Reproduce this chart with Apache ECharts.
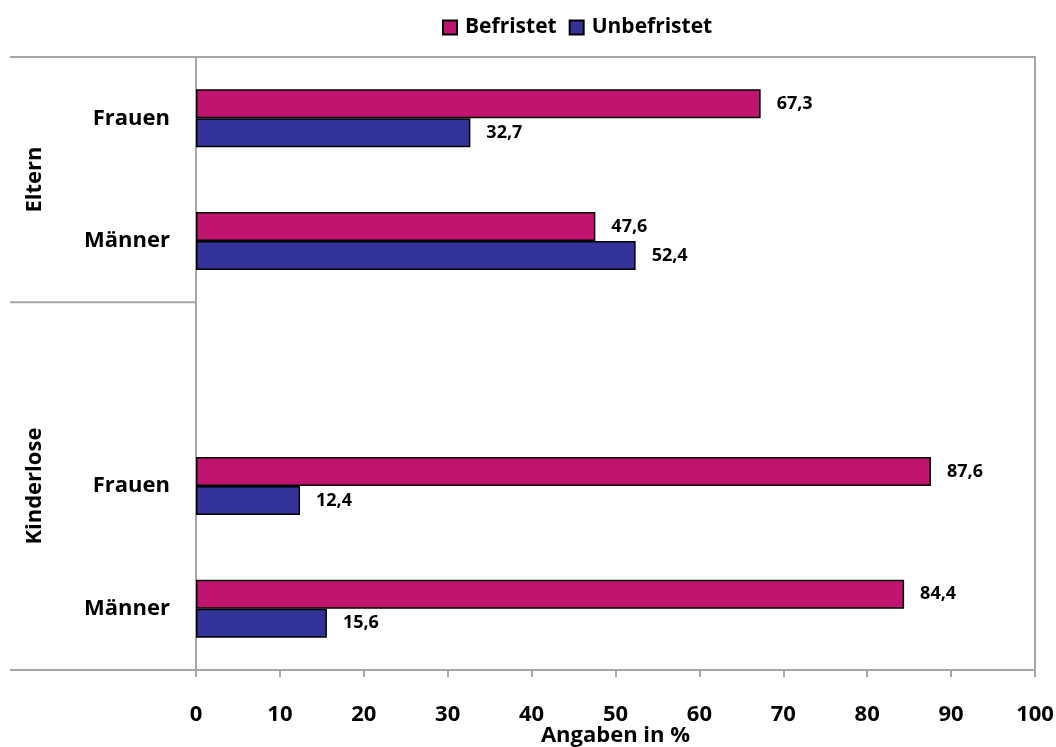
<!DOCTYPE html>
<html>
<head>
<meta charset="utf-8">
<script src="https://cdn.jsdelivr.net/npm/echarts@6/dist/echarts.min.js"></script>
<style>
html,body{margin:0;padding:0;background:#fff;}
#chart{width:1056px;height:747px;}
</style>
</head>
<body>
<div id="chart"></div>
<script>
// ---- data ----
const categories = ['Frauen', 'Männer', '', 'Frauen', 'Männer'];
const groupNames = ['Eltern', 'Kinderlose'];
const groupSizes = [2, 3];
const befristet = [67.3, 47.6, null, 87.6, 84.4];
const unbefristet = [32.7, 52.4, null, 12.4, 15.6];
const seriesNames = ['Befristet', 'Unbefristet'];
const xMin = 0, xMax = 100, xStep = 10;
const xAxisName = 'Angaben in %';

const FONT = '"Open Sans", "Noto Sans", sans-serif';
const GRAY = '#a6a6a6';

const chart = echarts.init(document.getElementById('chart'));

const labelOpt = {
  show: true,
  position: 'right',
  distance: 16,
  color: '#000',
  fontFamily: FONT,
  fontWeight: 'bold',
  fontSize: 18,
  formatter: p => p.value == null ? '' : String(p.value.toFixed(1)).replace('.', ',')
};

const option = {
  animation: false,
  backgroundColor: '#fff',
  legend: {
    top: 12,
    left: 437,
    itemWidth: 14,
    itemHeight: 14,
    itemGap: 12,
    icon: 'rect',
    textStyle: {fontFamily: FONT, fontWeight: 'bold', fontSize: 21, color: '#000', padding: [0, 0, 0, 3]},
    data: seriesNames
  },
  grid: {
    left: 196, right: 21, top: 57, bottom: 77,
    outerBoundsMode: 'none',
    containLabel: false,
    show: true, borderColor: GRAY, borderWidth: 2, backgroundColor: '#fff'
  },
  xAxis: {
    type: 'value',
    min: xMin, max: xMax, interval: xStep,
    name: xAxisName,
    nameLocation: 'middle',
    nameGap: 55,
    nameMoveOverlap: false,
    nameTextStyle: {fontFamily: FONT, fontWeight: 'bold', fontSize: 22, color: '#000'},
    splitLine: {show: false},
    axisLine: {show: true, lineStyle: {color: GRAY, width: 2}},
    axisTick: {show: true, length: 7, lineStyle: {color: GRAY, width: 2}},
    axisLabel: {margin: 34, fontFamily: FONT, fontWeight: 'bold', fontSize: 22, color: '#000'}
  },
  yAxis: {
    type: 'category',
    inverse: true,
    data: categories,
    axisLine: {show: true, lineStyle: {color: GRAY, width: 2}},
    axisTick: {show: false},
    splitLine: {show: false},
    axisLabel: {margin: 26, fontFamily: FONT, fontWeight: 'bold', fontSize: 22, color: '#000'}
  },
  series: [
    {
      name: seriesNames[0], type: 'bar', data: befristet,
      barWidth: 29, barGap: '0%',
      itemStyle: {color: '#C0156F', borderColor: '#000', borderWidth: 1.5},
      label: labelOpt
    },
    {
      name: seriesNames[1], type: 'bar', data: unbefristet,
      barWidth: 29, barGap: '0%',
      itemStyle: {color: '#333399', borderColor: '#000', borderWidth: 1.5},
      label: labelOpt
    }
  ]
};
chart.setOption(option);

// group separators and group labels on the left, placed via the category axis
const c0 = chart.convertToPixel({yAxisIndex: 0}, 0);
const c1 = chart.convertToPixel({yAxisIndex: 0}, 1);
const band = c1 - c0;
const axisX = chart.convertToPixel({xAxisIndex: 0}, 0);
const elems = [];
let idx = 0;
let startY = c0 - band / 2;
elems.push({type: 'line', shape: {x1: 10, y1: startY, x2: axisX, y2: startY}, style: {stroke: GRAY, lineWidth: 2}, z: 10});
groupNames.forEach((g, i) => {
  const y0 = c0 + (idx - 0.5) * band;
  idx += groupSizes[i];
  const y1 = c0 + (idx - 0.5) * band;
  elems.push({type: 'line', shape: {x1: 10, y1: y1, x2: axisX, y2: y1}, style: {stroke: GRAY, lineWidth: 2}, z: 10});
  elems.push({
    type: 'text', x: 35, y: (y0 + y1) / 2, rotation: Math.PI / 2,
    style: {text: g, fill: '#000', font: 'bold 22px ' + FONT, textAlign: 'center', textVerticalAlign: 'middle'},
    z: 10
  });
});
chart.setOption({graphic: elems});
</script>
</body>
</html>
